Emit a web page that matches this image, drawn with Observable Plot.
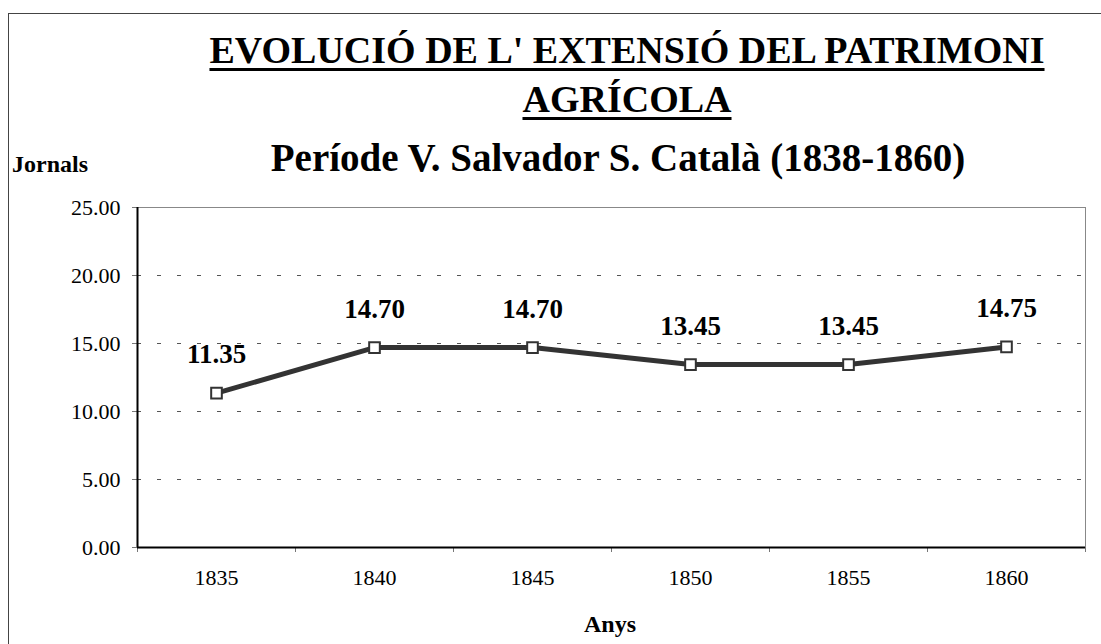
<!DOCTYPE html>
<html>
<head>
<meta charset="utf-8">
<script src="https://cdn.jsdelivr.net/npm/d3@7"></script>
<script src="https://cdn.jsdelivr.net/npm/@observablehq/plot@0.6"></script>
<style>
  html, body { margin: 0; padding: 0; background: #fff; }
  #wrap { position: relative; width: 1101px; height: 644px; overflow: hidden; font-family: "Liberation Serif", "Times New Roman", serif; color: #000; }
  #border { position: absolute; left: 8px; top: 13px; width: 2000px; height: 2000px; border: 1px solid #444; box-sizing: border-box; }
  .t { position: absolute; white-space: nowrap; font-weight: bold; }
  .title { left: 127px; width: 1000px; text-align: center; font-size: 38px; line-height: 38px; text-decoration: underline; text-decoration-thickness: 3px; text-underline-offset: 5px; }
  #chart { position: absolute; left: 0; top: 0; }
</style>
</head>
<body>
<div id="wrap">
  <div id="border"></div>
  <div id="chart"></div>
  <div class="t title" style="top:31px;">EVOLUCIÓ DE L' EXTENSIÓ DEL PATRIMONI</div>
  <div class="t title" style="top:80px;">AGRÍCOLA</div>
  <div class="t" id="sub" style="left:118px; width:1000px; text-align:center; top:138px; font-size:39px; line-height:39px;">Període V. Salvador S. Català (1838-1860)</div>
  <div class="t" style="left:12px; top:152px; font-size:24px; line-height:24px;">Jornals</div>
  <div class="t" style="left:510px; width:200px; text-align:center; top:612px; font-size:24px; line-height:24px;">Anys</div>
</div>
<script>
const years = [1835, 1840, 1845, 1850, 1855, 1860];
const values = [11.35, 14.70, 14.70, 13.45, 13.45, 14.75];
const yTicks = [0, 5, 10, 15, 20, 25];
const gridTicks = [5, 10, 15, 20, 25];

const data = years.map((year, i) => ({year, value: values[i]}));
const step = years[1] - years[0];
const xDomain = [years[0] - step / 2, years[years.length - 1] + step / 2];
const bounds = d3.range(years.length + 1).map(i => xDomain[0] + i * step);

const chart = Plot.plot({
  width: 1101,
  height: 644,
  marginLeft: 137,
  marginRight: 16,
  marginTop: 207,
  marginBottom: 97,
  style: { fontFamily: "Liberation Serif, Times New Roman, serif", background: "transparent", color: "#000" },
  x: { domain: xDomain, axis: null },
  y: { domain: [0, 25], axis: null },
  marks: [
    Plot.ruleY(gridTicks, { stroke: "#555", strokeWidth: 1, strokeDasharray: "4,16" }),
    Plot.frame({ stroke: "#888", strokeWidth: 1 }),
    Plot.axisY({ ticks: yTicks, tickFormat: d3.format(".2f"), tickSize: 5, tickPadding: 12, fontSize: 22, stroke: "#777", label: null, color: "#000" }),
    Plot.axisX({ ticks: years, tickFormat: d => String(d), tickSize: 0, tickPadding: 22, fontSize: 22, label: null }),
    Plot.axisX({ ticks: bounds, tickFormat: () => "", tickSize: 5, stroke: "#777", label: null }),
    Plot.ruleY([0], { stroke: "#000", strokeWidth: 2 }),
    Plot.ruleX([xDomain[0]], { stroke: "#000", strokeWidth: 2 }),
    Plot.line(data, { x: "year", y: "value", stroke: "#333", strokeWidth: 5 }),
    Plot.dot(data, { x: "year", y: "value", symbol: "square", r: 6, fill: "#fff", stroke: "#333", strokeWidth: 2 }),
    Plot.text(data, { x: "year", y: "value", text: d => d.value.toFixed(2), dy: -30, lineAnchor: "bottom", fontWeight: "bold", fontSize: 27, fill: "#000" })
  ]
});
document.getElementById("chart").appendChild(chart);
</script>
</body>
</html>
